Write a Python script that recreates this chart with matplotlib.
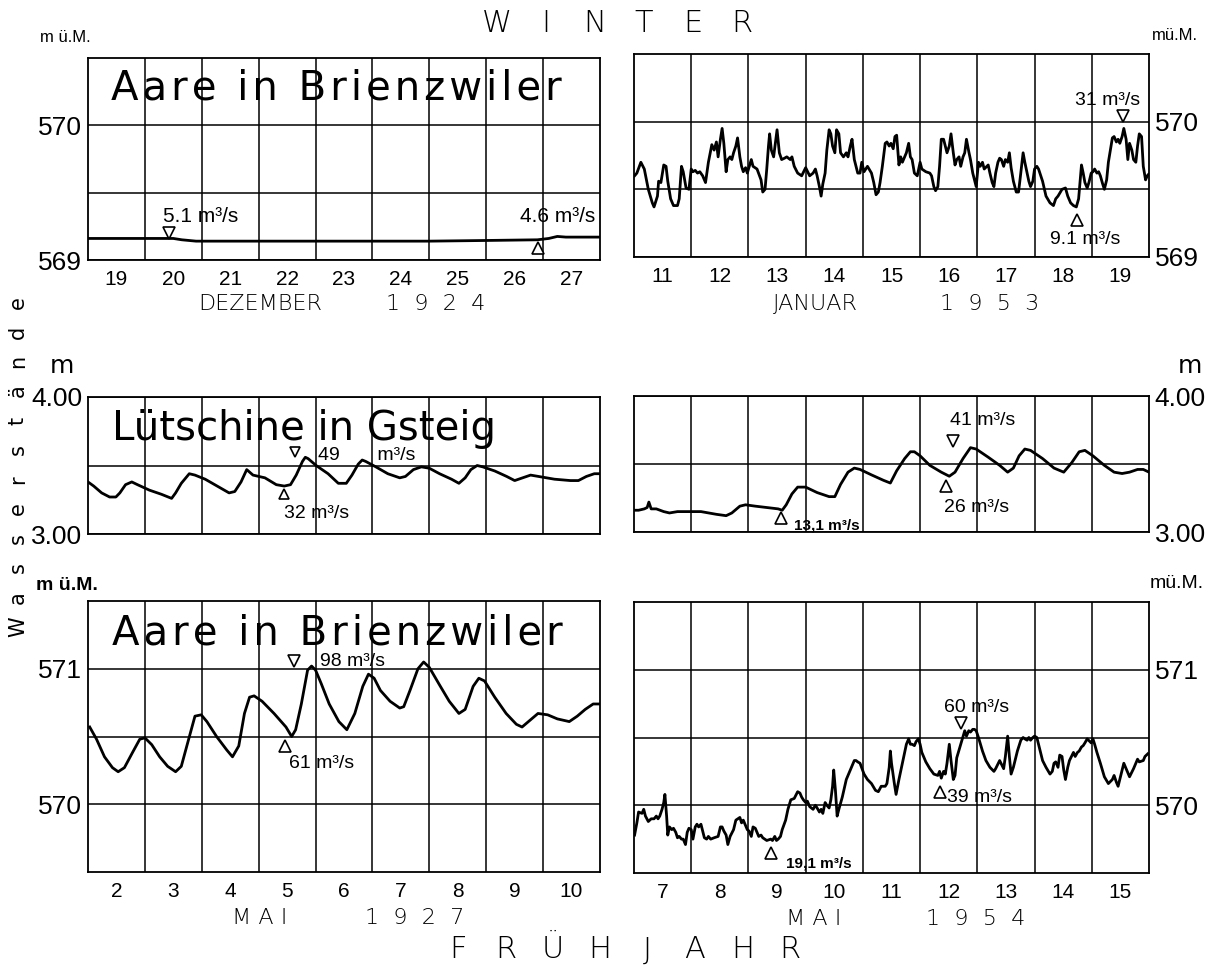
import numpy as np
import matplotlib.pyplot as plt

plt.rcParams['font.family'] = ['DejaVu Sans']
NUM_FONT = ['Liberation Sans', 'DejaVu Sans']

# ---- day axes (categories) ----
dez_1924_days = list(range(19, 28))
jan_1953_days = list(range(11, 20))
mai_1927_days = list(range(2, 11))
mai_1954_days = list(range(7, 16))

# ---- water level traces: (day, level) ----
aare_dez_1924 = [(18.5, 569.16), (19.5, 569.16), (20.0, 569.16), (20.15, 569.15), (20.4, 569.14),
                 (21.5, 569.14), (22.5, 569.14), (23.5, 569.14), (24.5, 569.14), (25.5, 569.145),
                 (26.4, 569.15), (26.6, 569.16), (26.75, 569.175), (26.9, 569.17), (27.1, 569.17),
                 (27.5, 569.17)]

aare_jan_1953 = [(10.51, 569.60), (10.55, 569.62), (10.62, 569.70), (10.68, 569.65), (10.75, 569.50), (10.82, 569.40),
                 (10.85, 569.37), (10.91, 569.45), (10.93, 569.56), (10.97, 569.55), (11.02, 569.68), (11.06, 569.67),
                 (11.09, 569.56), (11.14, 569.43), (11.19, 569.38), (11.26, 569.38), (11.29, 569.43), (11.33, 569.67),
                 (11.36, 569.63), (11.41, 569.51), (11.46, 569.50), (11.50, 569.65), (11.53, 569.63), (11.57, 569.64),
                 (11.61, 569.62), (11.65, 569.63), (11.70, 569.60), (11.75, 569.55), (11.80, 569.70), (11.86, 569.83),
                 (11.90, 569.79), (11.94, 569.85), (11.97, 569.74), (12.01, 569.87), (12.04, 569.95), (12.07, 569.84),
                 (12.11, 569.63), (12.14, 569.72), (12.18, 569.74), (12.21, 569.72), (12.24, 569.77), (12.28, 569.82),
                 (12.31, 569.88), (12.35, 569.74), (12.38, 569.67), (12.41, 569.63), (12.45, 569.66), (12.48, 569.62),
                 (12.55, 569.72), (12.58, 569.67), (12.65, 569.65), (12.72, 569.57), (12.75, 569.48), (12.79, 569.50),
                 (12.82, 569.65), (12.85, 569.82), (12.87, 569.91), (12.90, 569.79), (12.94, 569.74), (12.97, 569.84),
                 (13.00, 569.94), (13.04, 569.77), (13.08, 569.72), (13.13, 569.73), (13.17, 569.74), (13.23, 569.72),
                 (13.26, 569.74), (13.30, 569.67), (13.36, 569.62), (13.43, 569.60), (13.50, 569.66), (13.57, 569.60),
                 (13.63, 569.62), (13.67, 569.65), (13.70, 569.60), (13.74, 569.52), (13.77, 569.45), (13.80, 569.54),
                 (13.84, 569.62), (13.87, 569.79), (13.91, 569.94), (13.94, 569.91), (13.97, 569.82), (14.01, 569.77),
                 (14.04, 569.94), (14.08, 569.91), (14.11, 569.77), (14.16, 569.74), (14.21, 569.77), (14.24, 569.74),
                 (14.28, 569.82), (14.31, 569.87), (14.35, 569.72), (14.38, 569.67), (14.41, 569.62), (14.45, 569.62),
                 (14.48, 569.70), (14.52, 569.63), (14.58, 569.67), (14.65, 569.62), (14.69, 569.55), (14.73, 569.46),
                 (14.77, 569.48), (14.80, 569.55), (14.84, 569.67), (14.89, 569.84), (14.92, 569.85), (14.96, 569.82),
                 (14.99, 569.84), (15.03, 569.80), (15.06, 569.89), (15.09, 569.90), (15.13, 569.68), (15.16, 569.74),
                 (15.19, 569.70), (15.26, 569.77), (15.30, 569.84), (15.33, 569.74), (15.36, 569.72), (15.40, 569.62),
                 (15.45, 569.60), (15.50, 569.70), (15.53, 569.65), (15.60, 569.63), (15.67, 569.62), (15.70, 569.60),
                 (15.74, 569.52), (15.77, 569.49), (15.81, 569.52), (15.84, 569.67), (15.87, 569.87), (15.91, 569.87),
                 (15.94, 569.82), (15.97, 569.77), (16.01, 569.82), (16.04, 569.91), (16.08, 569.77), (16.11, 569.68),
                 (16.14, 569.72), (16.18, 569.74), (16.21, 569.67), (16.25, 569.74), (16.28, 569.77), (16.31, 569.87),
                 (16.35, 569.78), (16.38, 569.72), (16.42, 569.62), (16.45, 569.57), (16.48, 569.52), (16.52, 569.70),
                 (16.55, 569.67), (16.59, 569.70), (16.62, 569.65), (16.69, 569.68), (16.72, 569.62), (16.76, 569.55),
                 (16.79, 569.52), (16.82, 569.62), (16.86, 569.70), (16.89, 569.73), (16.92, 569.72), (16.96, 569.67),
                 (16.99, 569.72), (17.03, 569.70), (17.06, 569.77), (17.09, 569.66), (17.13, 569.56), (17.18, 569.48),
                 (17.22, 569.48), (17.24, 569.55), (17.28, 569.70), (17.30, 569.77), (17.33, 569.70), (17.37, 569.62),
                 (17.40, 569.56), (17.43, 569.52), (17.47, 569.56), (17.50, 569.65), (17.54, 569.67), (17.57, 569.65),
                 (17.64, 569.56), (17.70, 569.45), (17.77, 569.40), (17.83, 569.38), (17.87, 569.43), (17.91, 569.45),
                 (17.98, 569.50), (18.04, 569.51), (18.08, 569.45), (18.13, 569.40), (18.18, 569.38), (18.23, 569.37),
                 (18.27, 569.43), (18.32, 569.68), (18.35, 569.62), (18.38, 569.55), (18.42, 569.51), (18.45, 569.55),
                 (18.49, 569.62), (18.52, 569.63), (18.55, 569.65), (18.59, 569.62), (18.62, 569.63), (18.65, 569.60),
                 (18.69, 569.54), (18.72, 569.50), (18.76, 569.57), (18.79, 569.70), (18.86, 569.88), (18.89, 569.89),
                 (18.93, 569.85), (18.96, 569.87), (18.99, 569.84), (19.03, 569.89), (19.06, 569.95), (19.10, 569.87),
                 (19.13, 569.72), (19.16, 569.84), (19.20, 569.79), (19.23, 569.72), (19.27, 569.70), (19.30, 569.82),
                 (19.33, 569.91), (19.37, 569.89), (19.40, 569.67), (19.44, 569.57), (19.47, 569.60), (19.49, 569.61)]

luetschine_1927 = [(1.50, 3.38), (1.60, 3.35), (1.74, 3.30), (1.88, 3.27), (1.99, 3.27), (2.06, 3.30), (2.16, 3.36),
                   (2.27, 3.38), (2.37, 3.36), (2.58, 3.32), (2.79, 3.29), (2.97, 3.26), (3.04, 3.30), (3.14, 3.37),
                   (3.28, 3.44), (3.38, 3.43), (3.56, 3.40), (3.77, 3.35), (3.98, 3.30), (4.08, 3.31), (4.19, 3.38),
                   (4.29, 3.47), (4.40, 3.43), (4.61, 3.41), (4.81, 3.36), (4.95, 3.35), (5.06, 3.36), (5.16, 3.43),
                   (5.27, 3.53), (5.32, 3.56), (5.37, 3.55), (5.51, 3.50), (5.72, 3.44), (5.90, 3.37), (6.04, 3.37),
                   (6.14, 3.43), (6.25, 3.51), (6.32, 3.54), (6.38, 3.53), (6.56, 3.49), (6.77, 3.44), (6.98, 3.41),
                   (7.08, 3.42), (7.22, 3.47), (7.36, 3.49), (7.50, 3.48), (7.68, 3.44), (7.89, 3.40), (8.02, 3.37),
                   (8.13, 3.41), (8.23, 3.47), (8.34, 3.50), (8.44, 3.49), (8.65, 3.46), (8.86, 3.42), (9.00, 3.39),
                   (9.14, 3.41), (9.28, 3.43), (9.42, 3.42), (9.70, 3.40), (9.98, 3.39), (10.12, 3.39), (10.26, 3.42),
                   (10.40, 3.44), (10.50, 3.44)]

luetschine_1954 = [(6.50, 3.16), (6.58, 3.16), (6.68, 3.17), (6.73, 3.18), (6.76, 3.22), (6.80, 3.17), (6.89, 3.17),
                   (7.02, 3.15), (7.12, 3.14), (7.26, 3.15), (7.40, 3.15), (7.67, 3.15), (7.94, 3.13), (8.11, 3.12),
                   (8.21, 3.14), (8.35, 3.19), (8.45, 3.20), (8.62, 3.19), (8.82, 3.18), (9.02, 3.17), (9.09, 3.16),
                   (9.16, 3.20), (9.26, 3.28), (9.36, 3.33), (9.50, 3.33), (9.70, 3.29), (9.91, 3.26), (10.01, 3.26),
                   (10.11, 3.35), (10.24, 3.44), (10.35, 3.47), (10.45, 3.46), (10.65, 3.42), (10.86, 3.38), (10.98, 3.36),
                   (11.09, 3.45), (11.23, 3.54), (11.33, 3.59), (11.40, 3.59), (11.50, 3.56), (11.67, 3.49), (11.87, 3.44),
                   (12.01, 3.41), (12.11, 3.44), (12.25, 3.54), (12.38, 3.62), (12.48, 3.61), (12.69, 3.55), (12.89, 3.49),
                   (13.03, 3.44), (13.13, 3.47), (13.23, 3.56), (13.33, 3.61), (13.43, 3.60), (13.64, 3.54), (13.84, 3.47),
                   (14.01, 3.44), (14.15, 3.51), (14.28, 3.59), (14.38, 3.60), (14.52, 3.56), (14.72, 3.49), (14.89, 3.44),
                   (15.03, 3.43), (15.16, 3.44), (15.30, 3.46), (15.40, 3.46), (15.50, 3.44)]

aare_mai_1927 = [(1.53, 570.57), (1.65, 570.48), (1.79, 570.35), (1.93, 570.27), (2.03, 570.24), (2.14, 570.27),
                 (2.28, 570.38), (2.41, 570.48), (2.50, 570.49), (2.62, 570.44), (2.76, 570.35), (2.90, 570.28),
                 (3.04, 570.24), (3.14, 570.28), (3.25, 570.45), (3.38, 570.65), (3.49, 570.66), (3.59, 570.61),
                 (3.76, 570.50), (3.94, 570.40), (4.04, 570.35), (4.15, 570.43), (4.25, 570.67), (4.34, 570.79),
                 (4.42, 570.80), (4.56, 570.76), (4.77, 570.67), (4.98, 570.57), (5.08, 570.50), (5.15, 570.55),
                 (5.25, 570.74), (5.36, 570.99), (5.43, 571.02), (5.50, 570.99), (5.60, 570.89), (5.74, 570.74),
                 (5.91, 570.61), (6.05, 570.55), (6.19, 570.67), (6.33, 570.87), (6.43, 570.96), (6.53, 570.93),
                 (6.64, 570.84), (6.81, 570.76), (6.98, 570.71), (7.05, 570.72), (7.16, 570.84), (7.30, 571.00),
                 (7.40, 571.05), (7.50, 571.01), (7.68, 570.88), (7.85, 570.76), (8.02, 570.67), (8.13, 570.70),
                 (8.27, 570.87), (8.37, 570.93), (8.47, 570.91), (8.65, 570.79), (8.85, 570.67), (9.03, 570.59),
                 (9.13, 570.57), (9.27, 570.62), (9.41, 570.67), (9.58, 570.66), (9.75, 570.63), (9.96, 570.61),
                 (10.10, 570.65), (10.24, 570.70), (10.38, 570.74), (10.48, 570.74)]

aare_mai_1954 = [(6.51, 569.78), (6.55, 569.87), (6.58, 569.95), (6.64, 569.94), (6.67, 569.97), (6.70, 569.92),
                 (6.75, 569.88), (6.80, 569.90), (6.85, 569.90), (6.89, 569.92), (6.92, 569.90), (6.95, 569.92),
                 (6.99, 569.97), (7.02, 570.02), (7.04, 570.08), (7.07, 569.92), (7.09, 569.78), (7.12, 569.84),
                 (7.16, 569.82), (7.19, 569.83), (7.23, 569.80), (7.26, 569.76), (7.29, 569.77), (7.33, 569.75),
                 (7.36, 569.75), (7.40, 569.71), (7.43, 569.80), (7.46, 569.83), (7.50, 569.82), (7.53, 569.75),
                 (7.57, 569.84), (7.60, 569.86), (7.63, 569.84), (7.67, 569.86), (7.70, 569.81), (7.73, 569.76),
                 (7.77, 569.75), (7.80, 569.77), (7.84, 569.75), (7.90, 569.76), (7.97, 569.77), (8.01, 569.84),
                 (8.04, 569.84), (8.07, 569.81), (8.11, 569.78), (8.14, 569.71), (8.18, 569.77), (8.24, 569.82),
                 (8.28, 569.89), (8.35, 569.91), (8.38, 569.87), (8.41, 569.89), (8.48, 569.82), (8.51, 569.81),
                 (8.55, 569.77), (8.58, 569.84), (8.62, 569.83), (8.68, 569.77), (8.72, 569.78), (8.75, 569.76),
                 (8.82, 569.74), (8.89, 569.75), (8.92, 569.74), (8.96, 569.77), (8.99, 569.74), (9.02, 569.75),
                 (9.06, 569.77), (9.09, 569.82), (9.15, 569.89), (9.19, 569.97), (9.24, 570.04), (9.30, 570.05),
                 (9.36, 570.10), (9.40, 570.09), (9.43, 570.06), (9.46, 570.04), (9.50, 570.02), (9.53, 570.03),
                 (9.57, 569.99), (9.63, 569.97), (9.67, 570.00), (9.70, 569.98), (9.74, 569.95), (9.77, 569.97),
                 (9.80, 569.94), (9.84, 570.02), (9.87, 570.00), (9.91, 569.98), (9.94, 570.04), (9.97, 570.14),
                 (9.99, 570.26), (10.02, 570.11), (10.05, 569.92), (10.08, 569.97), (10.14, 570.06), (10.21, 570.19),
                 (10.28, 570.26), (10.35, 570.33), (10.38, 570.33), (10.41, 570.32), (10.45, 570.31), (10.52, 570.23),
                 (10.58, 570.19), (10.65, 570.16), (10.72, 570.11), (10.77, 570.10), (10.82, 570.14), (10.89, 570.14),
                 (10.92, 570.16), (10.96, 570.28), (10.98, 570.40), (11.00, 570.31), (11.05, 570.16), (11.08, 570.08),
                 (11.13, 570.19), (11.19, 570.31), (11.26, 570.45), (11.30, 570.49), (11.33, 570.45), (11.36, 570.45),
                 (11.40, 570.44), (11.43, 570.47), (11.47, 570.49), (11.50, 570.45), (11.53, 570.39), (11.57, 570.35),
                 (11.60, 570.32), (11.67, 570.27), (11.74, 570.23), (11.81, 570.22), (11.84, 570.25), (11.87, 570.20),
                 (11.91, 570.25), (11.94, 570.23), (11.97, 570.31), (12.01, 570.45), (12.04, 570.33), (12.08, 570.19),
                 (12.11, 570.22), (12.14, 570.35), (12.21, 570.45), (12.28, 570.55), (12.31, 570.51), (12.35, 570.55),
                 (12.38, 570.54), (12.42, 570.56), (12.45, 570.56), (12.48, 570.55), (12.52, 570.50), (12.59, 570.40),
                 (12.65, 570.33), (12.72, 570.28), (12.79, 570.25), (12.82, 570.27), (12.89, 570.33), (12.96, 570.27),
                 (12.99, 570.36), (13.03, 570.51), (13.06, 570.36), (13.09, 570.23), (13.13, 570.28), (13.20, 570.40),
                 (13.26, 570.48), (13.30, 570.50), (13.33, 570.49), (13.37, 570.48), (13.40, 570.50), (13.43, 570.48),
                 (13.47, 570.50), (13.50, 570.51), (13.54, 570.50), (13.57, 570.45), (13.64, 570.33), (13.70, 570.28),
                 (13.77, 570.23), (13.81, 570.25), (13.84, 570.31), (13.87, 570.32), (13.91, 570.28), (13.94, 570.37),
                 (13.98, 570.36), (14.01, 570.26), (14.04, 570.19), (14.08, 570.28), (14.11, 570.33), (14.18, 570.39),
                 (14.21, 570.36), (14.25, 570.39), (14.28, 570.40), (14.32, 570.43), (14.35, 570.44), (14.38, 570.46),
                 (14.42, 570.49), (14.49, 570.46), (14.52, 570.49), (14.55, 570.45), (14.59, 570.39), (14.65, 570.31),
                 (14.72, 570.21), (14.79, 570.16), (14.86, 570.19), (14.89, 570.22), (14.93, 570.17), (14.96, 570.14),
                 (14.99, 570.19), (15.06, 570.31), (15.10, 570.27), (15.16, 570.21), (15.23, 570.27), (15.30, 570.34),
                 (15.33, 570.32), (15.40, 570.33), (15.43, 570.36), (15.48, 570.38)]

# ---- discharge marks: (day, level, marker) and notes: (day, level, text, ha, size, weight) ----
dez_marks = [(19.92, 569.20, 'v'), (26.41, 569.09, '^')]
dez_notes = [(19.82, 569.32, '5.1 m³/s', 'left', 15, 'normal'), (27.42, 569.32, '4.6 m³/s', 'right', 15, 'normal')]
jan_marks = [(19.05, 570.04, 'v'), (18.24, 569.27, '^')]
jan_notes = [(18.77, 570.16, '31 m³/s', 'center', 14, 'normal'), (18.38, 569.13, '9.1 m³/s', 'center', 14, 'normal')]
lue27_marks = [(5.13, 3.60, 'v'), (4.94, 3.29, '^')]
lue27_notes = [(5.55, 3.57, '49       m³/s', 'left', 14, 'normal'), (4.95, 3.15, '32 m³/s', 'left', 14, 'normal')]
lue54_marks = [(12.08, 3.67, 'v'), (11.96, 3.34, '^'), (9.07, 3.10, '^')]
lue54_notes = [(12.02, 3.82, '41 m³/s', 'left', 14, 'normal'), (11.92, 3.18, '26 m³/s', 'left', 14, 'normal'),
               (9.30, 3.05, '13,1 m³/s', 'left', 11, 'bold')]
mai27_marks = [(5.12, 571.06, 'v'), (4.97, 570.43, '^')]
mai27_notes = [(5.57, 571.05, '98 m³/s', 'left', 14, 'normal'), (5.03, 570.30, '61 m³/s', 'left', 14, 'normal')]
mai54_marks = [(12.21, 570.61, 'v'), (11.84, 570.10, '^'), (8.89, 569.65, '^')]
mai54_notes = [(11.92, 570.72, '60 m³/s', 'left', 14, 'normal'), (11.97, 570.06, '39 m³/s', 'left', 14, 'normal'),
               (9.16, 569.57, '19,1 m³/s', 'left', 11, 'bold')]

fig = plt.figure(figsize=(12.09, 9.74), dpi=100)
W, H = 1209, 974


def rect(x0, y0, x1, y1):
    return [x0 / W, 1 - y1 / H, (x1 - x0) / W, (y1 - y0) / H]


def panel(r, days, ylim, grid_levels, label_levels, fmt, right, show_days):
    ax = fig.add_axes(r)
    days = np.array(days)
    ax.set_xlim(days[0] - 0.5, days[-1] + 0.5)
    ax.set_ylim(*ylim)
    ax.set_xticks(days)
    ax.set_xticks(days[:-1] + 0.5, minor=True)
    ax.set_yticks(label_levels)
    ax.set_yticks(grid_levels, minor=True)
    ax.set_yticklabels([fmt.format(v) for v in label_levels], fontfamily=NUM_FONT, fontsize=19)
    if show_days:
        ax.set_xticklabels([str(d) for d in days], fontfamily=NUM_FONT, fontsize=15)
    else:
        ax.set_xticklabels([])
    if right:
        ax.yaxis.tick_right()
    ax.tick_params(which='both', length=0)
    ax.tick_params(axis='x', pad=7)
    ax.tick_params(axis='y', pad=4)
    ax.grid(which='minor', color='black', lw=1.1)
    ax.grid(which='major', axis='y', color='black', lw=1.1)
    for s in ax.spines.values():
        s.set_linewidth(1.3)
    return ax


def draw(ax, trace, marks, notes, ms=9):
    d, v = np.array(trace).T
    ax.plot(d, v, color='black', lw=2.0, solid_joinstyle='round')
    for x, y, m in marks:
        ax.plot(x, y, marker=m, ms=ms, mfc='white', mec='black', mew=1.2, ls='none', zorder=5)
    for x, y, t, ha, fs, fw in notes:
        ax.text(x, y, t, ha=ha, va='center', fontsize=fs, fontfamily=NUM_FONT, fontweight=fw)


def spaced(s):
    return '\u200a'.join(s)


ax1 = panel(rect(88, 58, 600, 260), dez_1924_days, (569, 570.5), [569.5, 570], [569, 570], '{:.0f}', False, True)
draw(ax1, aare_dez_1924, dez_marks, dez_notes)
ax2 = panel(rect(634, 54, 1149, 257), jan_1953_days, (569, 570.5), [569.5, 570], [569, 570], '{:.0f}', True, True)
draw(ax2, aare_jan_1953, jan_marks, jan_notes)
ax3 = panel(rect(88, 397, 600, 534), mai_1927_days, (3, 4), [3.5], [3, 4], '{:.2f}', False, False)
draw(ax3, luetschine_1927, lue27_marks, lue27_notes, ms=7)
ax4 = panel(rect(634, 396, 1149, 532), mai_1954_days, (3, 4), [3.5], [3, 4], '{:.2f}', True, False)
draw(ax4, luetschine_1954, lue54_marks, lue54_notes, ms=8)
ax5 = panel(rect(88, 601, 600, 872), mai_1927_days, (569.5, 571.5), [570, 570.5, 571], [570, 571], '{:.0f}', False, True)
draw(ax5, aare_mai_1927, mai27_marks, mai27_notes)
ax6 = panel(rect(634, 602, 1149, 873), mai_1954_days, (569.5, 571.5), [570, 570.5, 571], [570, 571], '{:.0f}', True, True)
draw(ax6, aare_mai_1954, mai54_marks, mai54_notes)

# station names
ax1.text(0.045, 0.85, spaced('Aare in Brienzwiler'), transform=ax1.transAxes, fontsize=29, va='center')
ax3.text(0.047, 0.77, 'Lütschine in Gsteig', transform=ax3.transAxes, fontsize=29, va='center')
ax5.text(0.047, 0.88, spaced('Aare in Brienzwiler'), transform=ax5.transAxes, fontsize=29, va='center')

# month / year captions
captions = [(ax1, 'DEZEMBER', '1  9  2  4', 0.336, 0.68, -0.22),
            (ax2, 'JANUAR', '1  9  5  3', 0.352, 0.69, -0.23),
            (ax5, 'M A I', '1  9  2  7', 0.336, 0.637, -0.17),
            (ax6, 'M A I', '1  9  5  4', 0.348, 0.664, -0.17)]
for ax, month, year, xm, xy, yy in captions:
    ax.text(xm, yy, month, transform=ax.transAxes, ha='center', va='center', fontsize=16, fontweight='light')
    ax.text(xy, yy, year, transform=ax.transAxes, ha='center', va='center', fontsize=16, fontweight='light')

# units
fig.text(40 / W, 1 - 38 / H, 'm ü.M.', fontsize=12, fontfamily=NUM_FONT, va='center')
fig.text(1152 / W, 1 - 35 / H, 'mü.M.', fontsize=12, fontfamily=NUM_FONT, va='center')
fig.text(62 / W, 1 - 366 / H, 'm', fontsize=18, ha='center', va='center')
fig.text(1190 / W, 1 - 366 / H, 'm', fontsize=18, ha='center', va='center')
fig.text(36 / W, 1 - 585 / H, 'm ü.M.', fontsize=14, fontfamily=NUM_FONT, va='center', fontweight='bold')
fig.text(1150 / W, 1 - 583 / H, 'mü.M.', fontsize=14, fontfamily=NUM_FONT, va='center')

# season headings
for i, ch in enumerate('WINTER'):
    fig.text((497 + 49 * i) / W, 1 - 23 / H, ch, fontsize=22, ha='center', va='center', fontweight='light')
for i, ch in enumerate('FRÜHJAHR'):
    fig.text((458 + 47.4 * i) / W, 1 - 950 / H, ch, fontsize=22, ha='center', va='center', fontweight='light')

# vertical axis title
for i, ch in enumerate('Wasserstände'):
    fig.text(18 / W, 1 - (627 - 29.5 * i) / H, ch, fontsize=15, rotation=90, ha='center', va='center')

fig.savefig('out.png', dpi=100, facecolor='white')
